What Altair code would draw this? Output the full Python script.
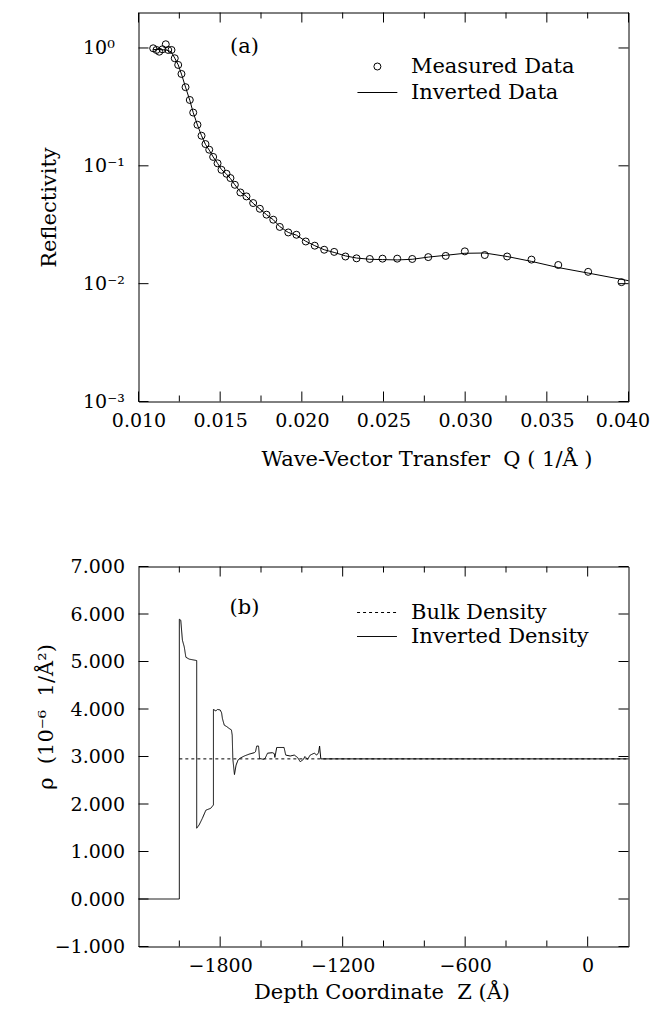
import math
import altair as alt
import pandas as pd

FONT = "DejaVu Serif"

# ---------------- panel (a) data ----------------
q_meas = [0.0109, 0.0111, 0.01127, 0.01147, 0.01167, 0.01182, 0.01202, 0.01222, 0.01243,
          0.01263, 0.01288, 0.01314, 0.01335, 0.01361, 0.01386, 0.0141, 0.01433, 0.01457,
          0.01484, 0.01508, 0.01539, 0.01563, 0.0159, 0.01624, 0.01661, 0.01702, 0.01743,
          0.01784, 0.01825, 0.01865, 0.01917, 0.01967, 0.02024, 0.02079, 0.02137, 0.02198,
          0.02267, 0.02335, 0.02416, 0.02494, 0.02584, 0.02676, 0.02774, 0.02881, 0.02998,
          0.0312, 0.03257, 0.03406, 0.0357, 0.03753, 0.03957]
r_meas = [0.994, 0.962, 0.930, 0.975, 1.075, 0.962, 0.962, 0.818, 0.718,
          0.602, 0.465, 0.362, 0.283, 0.223, 0.180, 0.153, 0.137, 0.119,
          0.105, 0.0925, 0.0856, 0.0787, 0.069, 0.0594, 0.055, 0.0483, 0.0432,
          0.0385, 0.0349, 0.0303, 0.0272, 0.0260, 0.0228, 0.0210, 0.0194, 0.0186,
          0.0170, 0.0164, 0.0162, 0.0163, 0.0163, 0.0162, 0.0168, 0.0172, 0.0188,
          0.0175, 0.0170, 0.0160, 0.0144, 0.0126, 0.0103]

q_fit = [0.0109, 0.0113, 0.0117, 0.0120, 0.01222, 0.01243, 0.01263, 0.01288, 0.01314,
         0.01335, 0.01361, 0.01386, 0.0141, 0.01433, 0.01457, 0.01484, 0.01508, 0.01539,
         0.01563, 0.0159, 0.01624, 0.01661, 0.01702, 0.01743, 0.01784, 0.01825, 0.01865,
         0.01917, 0.01967, 0.02024, 0.02079, 0.02137, 0.02198, 0.02267, 0.02335, 0.02416,
         0.02494, 0.02584, 0.02676, 0.02774, 0.02881, 0.02998, 0.0312, 0.03257, 0.03406,
         0.0357, 0.03753, 0.0400]
r_fit = [0.97, 0.97, 0.96, 0.93, 0.82, 0.72, 0.60, 0.465, 0.36,
         0.283, 0.222, 0.18, 0.152, 0.136, 0.119, 0.105, 0.093, 0.085,
         0.078, 0.069, 0.060, 0.055, 0.048, 0.043, 0.0385, 0.0349, 0.0305,
         0.0272, 0.0258, 0.0229, 0.0210, 0.0194, 0.0184, 0.0172, 0.0165, 0.0161,
         0.0160, 0.0159, 0.0161, 0.0168, 0.0174, 0.0181, 0.0182, 0.0170, 0.01545,
         0.0137, 0.0123, 0.0106]

top_series = ["Measured Data", "Inverted Data"]
q_major = [0.010, 0.015, 0.020, 0.025, 0.030, 0.035, 0.040]
q_minor = [0.0125, 0.0175, 0.0225, 0.0275, 0.0325, 0.0375]
r_ticks = [0.001, 0.01, 0.1, 1.0]
r_tick_labels = ["10⁻³", "10⁻²", "10⁻¹", "10⁰"]

# ---------------- panel (b) data ----------------
z_prof = [-2200, -2000, -2000, -1993, -1985, -1976, -1968, -1952, -1915, -1915,
          -1903, -1887, -1870, -1846, -1833, -1833, -1821, -1813, -1800, -1793,
          -1789, -1780, -1768, -1756, -1745, -1741, -1738, -1730, -1722, -1712,
          -1700, -1682, -1658, -1633, -1627, -1621, -1612, -1607, -1588, -1580,
          -1568, -1544, -1535, -1532, -1523, -1487, -1479, -1457, -1437, -1421,
          -1408, -1392, -1385, -1372, -1359, -1339, -1327, -1318, -1313, -1307, 200]
rho_prof = [0.00, 0.00, 5.89, 5.87, 5.45, 5.31, 5.09, 5.05, 5.02, 1.49,
            1.56, 1.70, 1.87, 1.91, 1.98, 3.99, 3.96, 3.99, 3.98, 3.92,
            3.80, 3.66, 3.63, 3.59, 3.56, 3.45, 2.95, 2.62, 2.82, 2.93,
            2.97, 3.01, 3.05, 3.08, 3.10, 3.22, 3.22, 2.96, 2.94, 2.96,
            3.07, 3.08, 3.06, 2.98, 3.19, 3.19, 3.03, 3.01, 3.03, 2.98,
            2.89, 2.94, 3.00, 2.94, 3.03, 3.07, 3.03, 3.08, 3.22, 2.95, 2.95]
z_bulk = [-2000, 200]
rho_bulk = [2.95, 2.95]

bot_series = ["Bulk Density", "Inverted Density"]
z_major = [-1800, -1200, -600, 0]
z_minor = [-2000, -1600, -1400, -1000, -800, -400, -200]
rho_ticks = [-1, 0, 1, 2, 3, 4, 5, 6, 7]

W = 490
H1 = 389
H2 = 380
TMAJ = 10
TMIN = 6
OFF_B = 554               # top of panel (b) below top of panel (a)
SPACING = OFF_B - H1      # flush bounds: spacing between plot areas
TICKF = 19
TEXTF = 21
NB = "\u00a0"
LINE_SYMBOL = "M-5.7,0H5.7"

xq = alt.Scale(domain=[0.010, 0.040], nice=False, zero=False)
yr = alt.Scale(type="log", domain=[0.001, 2.0], nice=False)
xz = alt.Scale(domain=[-2200, 200], nice=False, zero=False)
yz = alt.Scale(domain=[-1, 7], nice=False, zero=False)

# label expression for log axis
expr = "''"
for v, lab in zip(r_ticks, r_tick_labels):
    expr = f"(abs(log(datum.value)/log(10) - ({math.log10(v)})) < 0.01 ? '{lab}' : {expr})"

common = dict(ticks=False, domain=False, grid=False, labelOverlap=False, labelFlush=False,
              labelFont=FONT, labelFontSize=TICKF, labelColor="black",
              titleFont=FONT, titleFontSize=TEXTF, titleColor="black", titleFontWeight="normal")

ax_q = alt.Axis(values=q_major, format=".3f",
                title=f"Wave-Vector Transfer{NB}{NB}Q{NB}({NB}1/Å{NB})",
                labelPadding=19, labelBaseline="middle",
                labelOffset={"condition": {"test": "datum.value > 0.0399", "value": -6}, "value": 0},
                titleX=288, titleY=58, titleBaseline="middle", **common)
ax_r = alt.Axis(values=r_ticks, labelExpr=expr, title="Reflectivity",
                labelAlign="left", labelBaseline="middle", labelPadding=56,
                titleX=-89, titleY=H1 / 2, titleBaseline="middle", **common)
ax_z = alt.Axis(values=z_major, format="d", title=f"Depth Coordinate{NB}{NB}Z{NB}(Å)",
                labelPadding=19, labelBaseline="middle",
                titleX=243, titleY=46, titleBaseline="middle", **common)
ax_rho = alt.Axis(values=rho_ticks, format=".3f", title=f"ρ{NB}{NB}(10⁻⁶{NB}{NB}1/Å²)",
                  labelBaseline="middle", labelPadding=14,
                  titleX=-92, titleY=150, titleBaseline="middle", **common)


def x_tick_layers(vals, scale, axis, length, height):
    base = alt.Chart(pd.DataFrame({"v": vals})).mark_rule(color="black", strokeWidth=1)
    xe = alt.X("v:Q", scale=scale, axis=axis)
    return [
        base.encode(x=xe, y=alt.value(0), y2=alt.value(length)),
        base.encode(x=xe, y=alt.value(height), y2=alt.value(height - length)),
    ]


def y_tick_layers(vals, scale, axis, length, width):
    base = alt.Chart(pd.DataFrame({"v": vals})).mark_rule(color="black", strokeWidth=1)
    ye = alt.Y("v:Q", scale=scale, axis=axis)
    return [
        base.encode(y=ye, x=alt.value(0), x2=alt.value(length)),
        base.encode(y=ye, x=alt.value(width), x2=alt.value(width - length)),
    ]


# ---------------- panel (a) ----------------
meas_df = pd.DataFrame({"Q": q_meas, "R": r_meas, "series": top_series[0]})
fit_df = pd.DataFrame({"Q": q_fit, "R": r_fit})

points = alt.Chart(meas_df).mark_point(
    filled=False, size=49, strokeWidth=1, color="black", opacity=1
).encode(
    x=alt.X("Q:Q", scale=xq, axis=ax_q),
    y=alt.Y("R:Q", scale=yr, axis=ax_r),
    shape=alt.Shape("series:N", scale=alt.Scale(domain=top_series, range=["circle", LINE_SYMBOL]),
                    legend=alt.Legend(orient="none", legendX=228.4, legendY=43.5, title=None,
                                      symbolSize=49, symbolStrokeWidth=1, symbolStrokeColor="black",
                                      symbolFillColor="transparent", labelFont=FONT, labelFontSize=TEXTF,
                                      labelOffset=23, rowPadding=4, padding=0, labelColor="black",
                                      labelLimit=400)),
)

fit_line = alt.Chart(fit_df).mark_line(color="black", strokeWidth=1).encode(
    x=alt.X("Q:Q", scale=xq, axis=ax_q), y=alt.Y("R:Q", scale=yr, axis=ax_r))

label_a = alt.Chart(pd.DataFrame({"t": ["(a)"]})).mark_text(
    font=FONT, fontSize=TEXTF, align="center", baseline="middle", color="black"
).encode(text="t:N", x=alt.value(106), y=alt.value(34))

top_layers = [fit_line, points, label_a]
top_layers += x_tick_layers(q_major, xq, ax_q, TMAJ, H1)
top_layers += x_tick_layers(q_minor, xq, ax_q, TMIN, H1)
top_layers += y_tick_layers(r_ticks, yr, ax_r, TMAJ, W)
top = alt.layer(*top_layers).properties(width=W, height=H1)

# ---------------- panel (b) ----------------
prof_df = pd.DataFrame({"Z": z_prof, "rho": rho_prof, "series": bot_series[1]})
prof_df["idx"] = range(len(prof_df))
bulk_df = pd.DataFrame({"Z": z_bulk, "rho": rho_bulk, "series": bot_series[0]})
bulk_df["idx"] = range(len(bulk_df))
lines_df = pd.concat([bulk_df, prof_df], ignore_index=True)

lines = alt.Chart(lines_df).mark_line(color="black", strokeWidth=1).encode(
    x=alt.X("Z:Q", scale=xz, axis=ax_z),
    y=alt.Y("rho:Q", scale=yz, axis=ax_rho),
    strokeDash=alt.StrokeDash("series:N", scale=alt.Scale(domain=bot_series, range=[[3, 3], [1, 0]]),
                              legend=alt.Legend(orient="none", legendX=228,
                                                legendY=OFF_B + 35.5, title=None,
                                                symbolSize=49, symbolStrokeWidth=1,
                                                symbolStrokeColor="black", symbolType=LINE_SYMBOL,
                                                symbolFillColor="transparent",
                                                labelFont=FONT, labelFontSize=TEXTF, labelOffset=23.5,
                                                rowPadding=2, padding=0, labelColor="black",
                                                labelLimit=400)),
    order="idx:Q",
)

label_b = alt.Chart(pd.DataFrame({"t": ["(b)"]})).mark_text(
    font=FONT, fontSize=TEXTF, align="center", baseline="middle", color="black"
).encode(text="t:N", x=alt.value(106), y=alt.value(41))

bot_layers = [lines, label_b]
bot_layers += x_tick_layers(z_major, xz, ax_z, TMAJ, H2)
bot_layers += x_tick_layers(z_minor, xz, ax_z, TMIN, H2)
bot_layers += y_tick_layers(rho_ticks, yz, ax_rho, TMAJ, W)
bottom = alt.layer(*bot_layers).properties(width=W, height=H2)

chart = alt.vconcat(top, bottom, spacing=SPACING, bounds="flush").properties(
    padding={"left": 26.5, "top": 3.5, "right": 0, "bottom": 0},
    background="white",
).configure_view(
    stroke="black", strokeWidth=1
)

chart.save("out.html", embed_options={"renderer": "svg", "actions": False})
